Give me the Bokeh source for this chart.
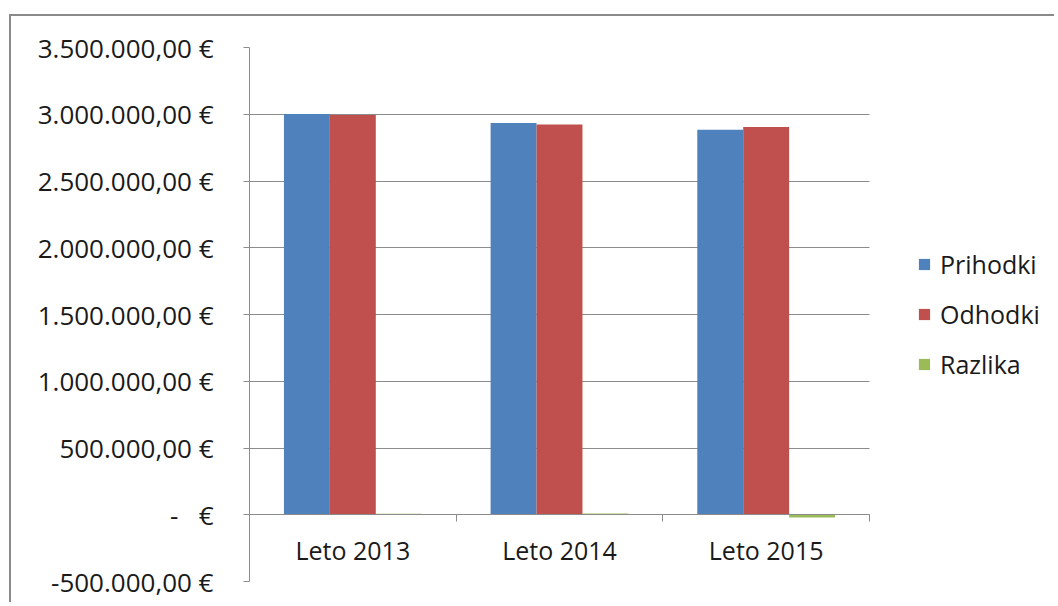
from bokeh.plotting import figure
from bokeh.models import FixedTicker, Range1d, Legend, LegendItem, ColumnDataSource
from bokeh.embed import file_html
from bokeh.resources import INLINE

categories = ["Leto 2013", "Leto 2014", "Leto 2015"]
series_names = ["Prihodki", "Odhodki", "Razlika"]
prihodki = [3002000, 2934000, 2884000]
odhodki = [2995000, 2924000, 2904000]
razlika = [7000, 10000, -20000]
y_ticks = [-500000, 0, 500000, 1000000, 1500000, 2000000, 2500000, 3000000, 3500000]
y_tick_labels = ["-500.000,00 €", "-\u00a0\u00a0\u00a0€", "500.000,00 €", "1.000.000,00 €",
                 "1.500.000,00 €", "2.000.000,00 €", "2.500.000,00 €", "3.000.000,00 €",
                 "3.500.000,00 €"]
colors = ["#4F81BD", "#C0504D", "#9BBB59"]

FONT = "Open Sans"
GRID = "#8c8c8c"
TXT = "#1a1a1a"

n = len(categories)
W, H = 1045, 588
LEFT = 238
frame_w = W - LEFT
x_end = n * frame_w / 620.0   # categories occupy 620px; remaining room holds the legend

p = figure(width=W, height=H, output_backend="svg", toolbar_location=None,
           x_range=Range1d(0, x_end), y_range=Range1d(y_ticks[0], y_ticks[-1]),
           min_border_left=LEFT, min_border_right=0, min_border_top=31, min_border_bottom=23)
p.styles = {"border-left": "2px solid #8a8a8a", "border-top": "2px solid #8a8a8a",
            "margin-left": "9px", "margin-top": "14px"}
p.outline_line_color = None
p.background_fill_color = "white"
p.border_fill_color = "white"

bw = 2.0 / 9.0
offsets = [-bw, 0.0, bw]
renderers = []
for k, vals in enumerate([prihodki, odhodki, razlika]):
    xs = [i + 0.5 + offsets[k] for i in range(n)]
    src = ColumnDataSource(dict(x=xs, top=vals))
    r = p.vbar(x="x", top="top", bottom=0, width=bw, source=src,
               fill_color=colors[k], line_color=None)
    renderers.append(r)

# x axis at zero
xa = p.xaxis[0]
xa.fixed_location = 0
xa.bounds = (0, n)
xa.ticker = FixedTicker(ticks=[i + 0.5 for i in range(n)], minor_ticks=list(range(n + 1)))
xa.major_label_overrides = {i + 0.5: c for i, c in enumerate(categories)}
xa.major_tick_line_color = None
xa.major_tick_out = 0
xa.major_tick_in = 0
xa.minor_tick_out = 7
xa.minor_tick_in = 0
xa.minor_tick_line_color = GRID
xa.axis_line_color = GRID
xa.major_label_standoff = 11
xa.major_label_text_font = FONT
xa.major_label_text_font_size = "25px"
xa.major_label_text_color = TXT

ya = p.yaxis[0]
ya.ticker = FixedTicker(ticks=y_ticks)
ya.major_label_overrides = {t: l for t, l in zip(y_ticks, y_tick_labels)}
ya.minor_tick_line_color = None
ya.major_tick_out = 6
ya.major_tick_in = 0
ya.major_tick_line_color = GRID
ya.axis_line_color = GRID
ya.major_label_standoff = 30
ya.major_label_text_font = FONT
ya.major_label_text_font_size = "26px"
ya.major_label_text_color = TXT

p.xgrid.grid_line_color = None
yg = p.ygrid[0]
if hasattr(yg, "cross_bounds"):
    yg.cross_bounds = (0, n)
    yg.grid_line_color = GRID
    yg.grid_line_width = 1
else:
    yg.grid_line_color = None
    p.segment(x0=[0] * len(y_ticks), x1=[n] * len(y_ticks), y0=y_ticks, y1=y_ticks,
              line_color=GRID, line_width=1, level="underlay")

legend = Legend(items=[LegendItem(label=nm, renderers=[r]) for nm, r in zip(series_names, renderers)],
                location=(668, 200))
legend.glyph_width = 14
legend.glyph_height = 14
legend.label_height = 20
legend.label_standoff = 9
legend.spacing = 16
legend.padding = 0
legend.margin = 0
legend.border_line_color = None
legend.background_fill_alpha = 0
legend.label_text_font = FONT
legend.label_text_font_size = "25px"
legend.label_text_color = TXT
p.add_layout(legend)

open("out.html", "w").write(file_html(p, INLINE))
